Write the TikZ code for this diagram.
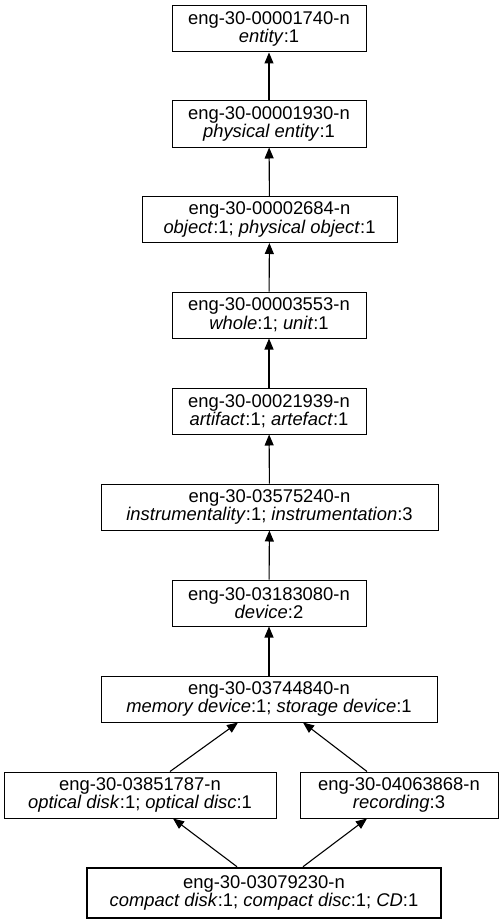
\documentclass[tikz,border=0pt]{standalone}
\usepackage{fontspec}
\setmainfont{Liberation Sans}
\usetikzlibrary{arrows.meta}
\tikzset{
  syn/.style={draw=black, line width=1pt, inner sep=0pt, align=center,
    font=\fontsize{18.4}{18.5}\selectfont, minimum height=46pt},
  focus/.style={syn, line width=2.6pt, minimum height=50pt},
  arr/.style={line width=1.1pt, -{Triangle[length=11pt,width=9pt]}}
}
\begin{document}
\begin{tikzpicture}[x=1pt,y=-1pt]
\useasboundingbox (0,0) rectangle (503,923);
\node[syn, minimum width=194pt] (n1) at (269,29) {eng-30-00001740-n\\\textit{entity}:1};
\node[syn, minimum width=194pt] (n2) at (269,124) {eng-30-00001930-n\\\textit{physical entity}:1};
\node[syn, minimum width=255pt] (n3) at (269.5,219.5) {eng-30-00002684-n\\\textit{object}:1; \textit{physical object}:1};
\node[syn, minimum width=194pt] (n4) at (269,315) {eng-30-00003553-n\\\textit{whole}:1; \textit{unit}:1};
\node[syn, minimum width=194pt] (n5) at (269,411) {eng-30-00021939-n\\\textit{artifact}:1; \textit{artefact}:1};
\node[syn, minimum width=337pt] (n6) at (269.5,507) {eng-30-03575240-n\\\textit{instrumentality}:1; \textit{instrumentation}:3};
\node[syn, minimum width=194pt] (n7) at (269,603) {eng-30-03183080-n\\\textit{device}:2};
\node[syn, minimum width=336pt] (n8) at (269,699) {eng-30-03744840-n\\\textit{memory device}:1; \textit{storage device}:1};
\node[syn, minimum width=272pt] (n9) at (140,795) {eng-30-03851787-n\\\textit{optical disk}:1; \textit{optical disc}:1};
\node[syn, minimum width=198pt] (n10) at (399,795) {eng-30-04063868-n\\\textit{recording}:3};
\node[focus, minimum width=354pt] (n11) at (264,893) {eng-30-03079230-n\\\textit{compact disk}:1; \textit{compact disc}:1; \textit{CD}:1};
\draw[arr] (n2) -- (n1);
\draw[arr] (n3) -- (n2);
\draw[arr] (n4) -- (n3);
\draw[arr] (n5) -- (n4);
\draw[arr] (n6) -- (n5);
\draw[arr] (n7) -- (n6);
\draw[arr] (n8) -- (n7);
\draw[arr] ([xshift=30pt]n9.north) -- ([xshift=-31pt]n8.south);
\draw[arr] ([xshift=-32pt]n10.north) -- ([xshift=34pt]n8.south);
\draw[arr] ([xshift=-27pt]n11.north) -- ([xshift=33pt]n9.south);
\draw[arr] ([xshift=39pt]n11.north) -- ([xshift=-32pt]n10.south);
\end{tikzpicture}
\end{document}
